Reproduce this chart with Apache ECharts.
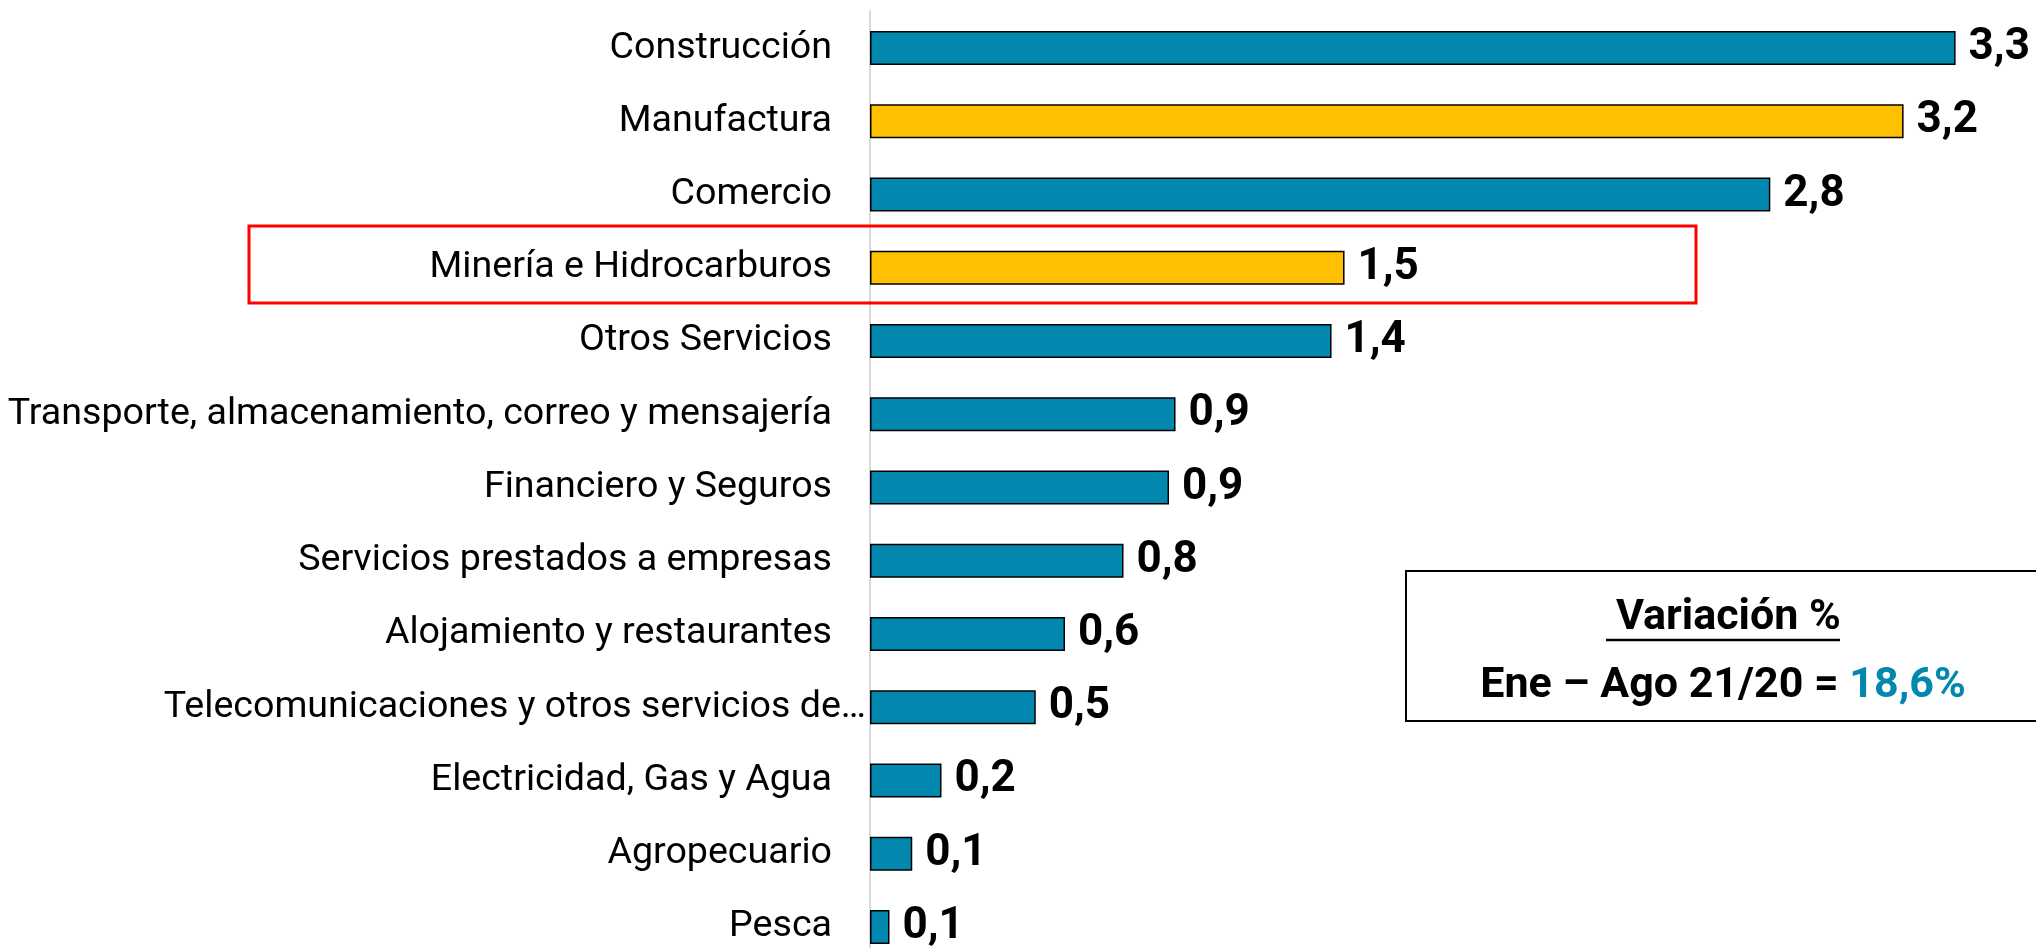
<!DOCTYPE html>
<html>
<head>
<meta charset="utf-8">
<script src="https://cdn.jsdelivr.net/npm/echarts@6/dist/echarts.min.js"></script>
<style>
html,body{margin:0;padding:0;background:#fff;overflow:hidden;}
#chart{width:2036px;height:980px;}
</style>
</head>
<body>
<div id="chart"></div>
<script>
const categories = [
  'Construcción',
  'Manufactura',
  'Comercio',
  'Minería e Hidrocarburos',
  'Otros Servicios',
  'Transporte, almacenamiento, correo y mensajería',
  'Financiero y Seguros',
  'Servicios prestados a empresas',
  'Alojamiento y restaurantes',
  'Telecomunicaciones y otros servicios de…',
  'Electricidad, Gas y Agua',
  'Agropecuario',
  'Pesca'
];
const values = [3.34, 3.18, 2.77, 1.46, 1.42, 0.94, 0.92, 0.78, 0.60, 0.51, 0.22, 0.13, 0.06];
const highlighted = ['Manufactura', 'Minería e Hidrocarburos'];
const boxTitle = ' Variación %';
const boxLine = 'Ene – Ago 21/20 = ';
const boxValue = '18,6%';

const BLUE = '#0288AE';
const YELLOW = '#FFC000';

const chart = echarts.init(document.getElementById('chart'), null, {renderer: 'canvas'});

const option = {
  animation: false,
  backgroundColor: '#ffffff',
  grid: {left: 870, top: 11.5, width: 1137.6, height: 952, containLabel: false},
  xAxis: {
    type: 'value', min: 0, max: 3.5, show: false,
    splitLine: {show: false}
  },
  yAxis: {
    type: 'category', inverse: true, data: categories,
    axisLine: {show: true, lineStyle: {color: '#d9d9d9', width: 2}},
    axisTick: {show: false},
    axisLabel: {
      margin: 4,
      fontFamily: 'Roboto', fontSize: 37.6, color: '#000',
      formatter: function (v) {
        return v.endsWith('…') ? '{b|' + v + '}' : '{a|' + v + '}';
      },
      rich: {
        a: {fontFamily: 'Roboto', fontSize: 37.6, color: '#000', padding: [0, 34, 0, 0]},
        b: {fontFamily: 'Roboto', fontSize: 37.6, color: '#000'}
      }
    }
  },
  series: [{
    type: 'bar',
    barWidth: 34,
    data: values.map(function (v, i) {
      return {
        value: v,
        itemStyle: {color: highlighted.indexOf(categories[i]) >= 0 ? YELLOW : BLUE}
      };
    }),
    itemStyle: {borderColor: '#000', borderWidth: 1.5},
    label: {
      show: true, position: 'right', distance: 13,
      fontFamily: 'Roboto', fontWeight: 'bold', fontSize: 44, color: '#000',
      formatter: function (p) { return p.value.toFixed(1).replace('.', ','); }
    }
  }],
  graphic: [
    {type: 'rect', shape: {x: 249, y: 226, width: 1447, height: 77},
     style: {fill: 'none', stroke: '#FF0000', lineWidth: 3}, z: 10},
    {type: 'rect', shape: {x: 1406, y: 571, width: 700, height: 150},
     style: {fill: '#fff', stroke: '#000', lineWidth: 2}, z: 10},
    {type: 'text', x: 1723, y: 618, z: 11,
     style: {text: boxTitle, align: 'center', verticalAlign: 'middle',
             font: 'bold 43px Roboto', fill: '#000'}},
    {type: 'line', shape: {x1: 1606, y1: 640, x2: 1840, y2: 640}, z: 11,
     style: {stroke: '#000', lineWidth: 2.5}},
    {type: 'text', x: 1723, y: 686, z: 11,
     style: {text: '{k|' + boxLine + '}{v|' + boxValue + '}', align: 'center', verticalAlign: 'middle',
             rich: {k: {font: 'bold 43px Roboto', fill: '#000'},
                    v: {font: 'bold 43px Roboto', fill: BLUE}}}}
  ]
};
chart.setOption(option);
</script>
</body>
</html>
